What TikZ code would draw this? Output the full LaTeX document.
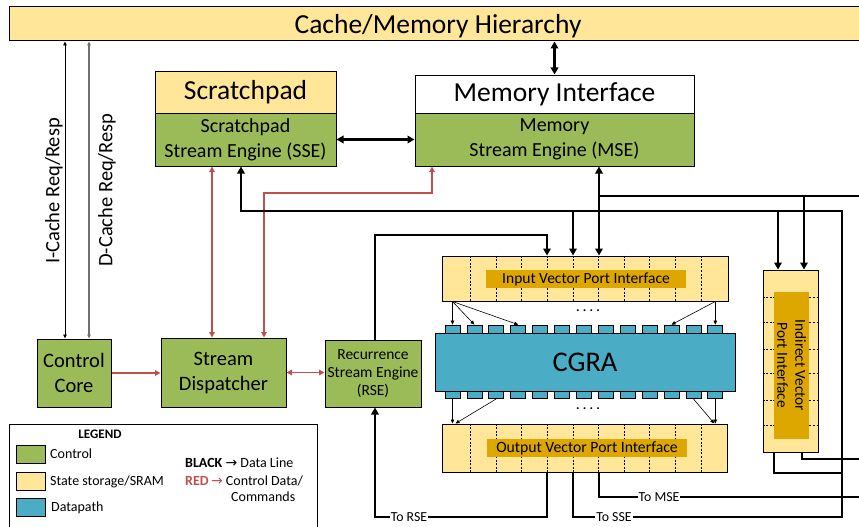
\documentclass[tikz,border=0pt]{standalone}
\usepackage{fontspec}
\setmainfont{Carlito}
\newfontfamily\symfont{DejaVu Sans}
\usetikzlibrary{arrows.meta,calc}
\definecolor{cgreen}{HTML}{9BBB59}
\definecolor{cyellow}{HTML}{FFE699}
\definecolor{cgold}{HTML}{DDA700}
\definecolor{cteal}{HTML}{4BACC6}
\definecolor{cred}{HTML}{C0504D}
\definecolor{cgray}{HTML}{707070}
\newcommand{\fs}[1]{\fontsize{#1}{#1}\selectfont}
\begin{document}
\begin{tikzpicture}[x=1pt,y=-1pt,
  box/.style={draw=black, line width=1pt, inner sep=0pt, align=center},
  sq/.style={draw=black, line width=0.7pt, fill=cteal, minimum width=15pt, minimum height=8pt, inner sep=0pt},
  swatch/.style={draw=black, line width=0.8pt, minimum width=29pt, minimum height=18pt, inner sep=0pt},
  lbl/.style={fill=cgold, inner sep=0pt},
  divider/.style={line width=0.8pt, dash pattern=on 2pt off 1.6pt},
  data/.style={line width=2.2pt, black},
  tip/.tip={Triangle[length=7pt,width=7.5pt]},
  rtip/.tip={Triangle[length=5.5pt,width=5.5pt]},
  stip/.tip={Triangle[length=4pt,width=3.5pt]},
  dataarr/.style={data, -tip},
  databoth/.style={data, tip-tip},
  ctl/.style={cred, line width=1.4pt},
  ctlarr/.style={ctl, -rtip},
  ctlboth/.style={ctl, rtip-rtip},
  tarr/.style={line width=0.6pt, -stip},
  linelbl/.style={fill=white, inner sep=1pt, font=\fs{13.8}},
  legtxt/.style={anchor=west, inner sep=0pt, font=\fs{14}}
]
\useasboundingbox (0,0) rectangle (859,527);
\clip (0,0) rectangle (859,527);

% ---------- blocks ----------
\node[box, fill=cyellow, minimum width=857pt, minimum height=34pt, text depth=0pt, font=\fs{27.5}] (cache) at (438,24) {Cache/Memory Hierarchy};

\node[box, fill=cyellow, minimum width=181pt, minimum height=41pt, font=\fs{27.5}] (sp) at (245.5,92.5) {Scratchpad};
\node[box, fill=cgreen, minimum width=181pt, minimum height=53pt, font=\fontsize{20}{25}\selectfont] (sse) at (245.5,139.5) {Scratchpad\\Stream Engine (SSE)};

\node[box, fill=white, minimum width=279pt, minimum height=38pt, font=\fs{27.5}] (mi) at (554.5,94) {Memory Interface};
\node[box, fill=cgreen, minimum width=279pt, minimum height=53pt, font=\fontsize{20}{25}\selectfont] (mse) at (554.5,139.5) {Memory\\Stream Engine (MSE)};

\node[box, fill=cgreen, minimum width=74pt, minimum height=68pt, font=\fontsize{20.5}{25}\selectfont] (cc) at (74,373) {Control\\Core};
\node[box, fill=cgreen, minimum width=125pt, minimum height=69pt, font=\fontsize{20.5}{25}\selectfont] (disp) at (223.5,372.5) {Stream\\Dispatcher};
\node[box, fill=cgreen, minimum width=96pt, minimum height=67pt, font=\fontsize{15.5}{18}\selectfont] (rse) at (373,373.5) {Recurrence\\Stream Engine\\(RSE)};

% input vector port
\node[box, fill=cyellow, minimum width=286pt, minimum height=45pt] (inport) at (585,278.5) {};
\foreach \k in {0,...,9}
  \draw[divider] ($(inport.north west)+(29+25.6*\k,0)$) -- ($(inport.south west)+(29+25.6*\k,0)$);
\node[lbl, minimum width=200pt, minimum height=18pt, font=\fs{15.5}] (inlbl) at (586,279) {Input Vector Port Interface};

% CGRA
\foreach \i in {0,...,12} {
  \node[sq] (t\i) at (452.5+21.9*\i,329) {};
  \node[sq] (b\i) at (452.5+21.9*\i,394.5) {};
}
\node[box, fill=cteal, minimum width=300pt, minimum height=58pt, font=\fs{28.5}] (cgra) at (585,362) {CGRA};

% output vector port
\node[box, fill=cyellow, minimum width=285pt, minimum height=48pt] (outport) at (584.5,448) {};
\foreach \k in {0,...,9}
  \draw[divider] ($(outport.north west)+(29+25.6*\k,0)$) -- ($(outport.south west)+(29+25.6*\k,0)$);
\node[lbl, minimum width=200pt, minimum height=18pt, font=\fs{15.7}] (outlbl) at (587,448) {Output Vector Port Interface};

% indirect vector port
\node[box, fill=cyellow, minimum width=55pt, minimum height=182pt] (ind) at (790.5,361) {};
\foreach \d in {28,53,80,104,131,156}
  \draw[divider] ($(ind.north west)+(0,\d)$) -- ($(ind.north east)+(0,\d)$);
\node[lbl, minimum width=35pt, minimum height=147pt] (indl) at (791.5,365.5) {};
\node[rotate=-90, align=center, inner sep=0pt, font=\fontsize{15.3}{18}\selectfont] (indt) at (indl) {Indirect Vector\\Port Interface};

% dots
\node[font=\fs{16}, inner sep=0pt] (dots1) at (588,311) {.\,.\,.\,.};
\node[font=\fs{16}, inner sep=0pt] (dots2) at (588,409) {.\,.\,.\,.};

% ---------- coordinates ----------
\coordinate (xI) at (65,0);
\coordinate (xD) at (89,0);
\coordinate (xr1) at (212,0);
\coordinate (xr2) at (264,0);
\coordinate (xr3) at (432,0);
\coordinate (yr) at (0,193);
\coordinate (x241) at (241,0);
\coordinate (x375) at (375,0);
\coordinate (x547) at (547,0);
\coordinate (x573) at (573,0);
\coordinate (x599) at (599,0);
\coordinate (x774) at (774,0);
\coordinate (x778) at (778,0);
\coordinate (x802) at (802,0);
\coordinate (x804) at (804,0);
\coordinate (x842) at (842,0);
\coordinate (edge) at (866,0);
\coordinate (yMSE) at (0,196);
\coordinate (ySSE) at (0,211);
\coordinate (yRSE) at (0,235);
\coordinate (y459) at (0,459);
\coordinate (y473) at (0,473);
\coordinate (y497) at (0,497);
\coordinate (ybot) at (0,517);

% ---------- cache request lines ----------
\draw[line width=0.9pt, stip-stip] (cache.south -| xI) -- (cc.north -| xI);
\draw[line width=1.1pt, cgray, stip-stip] (cache.south -| xD) -- (cc.north -| xD);
\node[rotate=90, inner sep=0pt, font=\fs{20.5}] (ilab) at (54,191) {I-Cache Req/Resp};
\node[rotate=90, inner sep=0pt, font=\fs{20.5}] (dlab) at (107,190) {D-Cache Req/Resp};

% ---------- control (red) ----------
\draw[ctlboth] (sse.south -| xr1) -- (disp.north -| xr1);
\draw[ctlboth] (disp.north -| xr2) -- (xr2 |- yr) -| (mse.south -| xr3);
\draw[ctlarr] (cc.east) -- (cc.east -| disp.west);
\draw[ctlboth] (disp.east) -- (disp.east -| rse.west);

% ---------- data (black) ----------
\draw[databoth] (cache.south -| mi.north) -- (mi.north);
\draw[databoth] (sse.east) -- (sse.east -| mse.west);

% SSE loop
\draw[dataarr] (outport.south -| x573) -- (x573 |- ybot) -- (x842 |- ybot) -- (x842 |- ySSE) -- (x241 |- ySSE) -- (sse.south -| x241);
\draw[dataarr] (x573 |- ySSE) -- (inport.north -| x573);
\draw[dataarr] (x778 |- ySSE) -- (ind.north -| x778);
\node[linelbl] (tosse) at (614,517) {To SSE};

% MSE loop
\draw[databoth] (mse.south -| x599) -- (inport.north -| x599);
\draw[data] (x599 |- yMSE) -- (edge |- yMSE);
\draw[dataarr] (x804 |- yMSE) -- (ind.north -| x804);
\draw[data] (outport.south -| x599) -- (x599 |- y497) -- (edge |- y497);
\node[linelbl] (tomse) at (659,497) {To MSE};

% indirect outputs
\draw[data] (ind.south -| x802) -- (x802 |- y459) -- (edge |- y459);
\draw[data] (ind.south -| x774) -- (x774 |- y473) -- (x842 |- y473);

% RSE loop
\draw[dataarr] (rse.north -| x375) -- (x375 |- yRSE) -| (inport.north -| x547);
\draw[dataarr] (outport.south -| x547) -- (x547 |- ybot) -- (x375 |- ybot) -- (rse.south -| x375);
\node[linelbl] (torse) at (409,517) {To RSE};

% ---------- port to CGRA arrows ----------
\draw[tarr] (inport.south -| t0) -- (t0.north);
\draw[tarr] (inport.south -| t0) -- (t1.north);
\draw[tarr] (inport.south -| t0) -- (t3.north);
\draw[tarr] (inport.south -| t12) -- (t12.north);
\draw[tarr] (inport.south -| t12) -- (t10.north);
\draw[tarr] (b0.south) -- (outport.north -| b0);
\draw[tarr] (b2.south) -- ([xshift=3pt]outport.north -| b0);
\draw[tarr] (b11.south) -- ([xshift=-1pt]outport.north -| b12);
\draw[tarr] (b12.south) -- (outport.north -| b12);

% ---------- legend ----------
\node[draw=black, line width=0.9pt, minimum width=308pt, minimum height=130pt, anchor=north west, inner sep=0pt] (leg) at (9,424) {};
\node[font=\bfseries\fs{13}, inner sep=0pt] (legt) at (100,434) {LEGEND};
\node[swatch, fill=cgreen] (s1) at (30.5,454) {};
\node[swatch, fill=cyellow] (s2) at (30.5,481) {};
\node[swatch, fill=cteal] (s3) at (30.5,507) {};
\node[legtxt] (l1) at (50,454) {Control};
\node[legtxt] (l2) at (50,482) {State storage/SRAM};
\node[legtxt] (l3) at (51,508) {Datapath};
\node[legtxt] (l4) at (185,463) {\textbf{BLACK} {\symfont\fs{14}→} Data Line};
\node[legtxt] (l5) at (185,481) {\textcolor{cred}{\textbf{RED}}\,{\color{cred}\symfont\fs{14}→} Control Data/};
\node[legtxt] (l6) at (231,497) {Commands};
\end{tikzpicture}
\end{document}
